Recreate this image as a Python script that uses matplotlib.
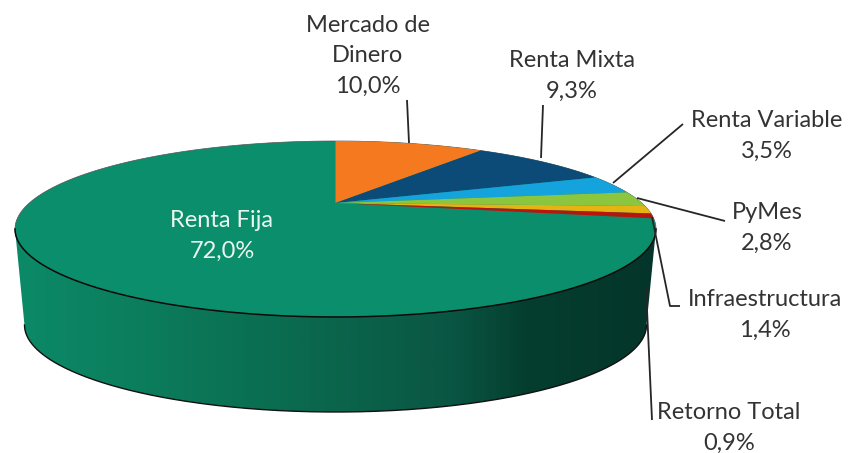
import matplotlib
matplotlib.use('Agg')
import matplotlib.pyplot as plt
import numpy as np
from matplotlib.colors import LinearSegmentedColormap
from matplotlib.patches import Polygon

# data
labels = ['Mercado de\nDinero', 'Renta Mixta', 'Renta Variable', 'PyMes',
          'Infraestructura', 'Retorno Total', 'Renta Fija']
values = [10.0, 9.3, 3.5, 2.8, 1.4, 0.9, 72.0]
percents = ['10,0%', '9,3%', '3,5%', '2,8%', '1,4%', '0,9%', '72,0%']
colors = ['#F4791F', '#0C4A77', '#14A3DC', '#8CC63F', '#E5B413', '#B8150F', '#0B8E6B']

# top ellipse of the pie, in pixels
cx, cy, rx, ry = 335.5, 229, 320.5, 88
apex_y = 203
bot_cx, bot_cy, bot_rx, bot_ry = 335.5, 325, 311, 87


def rim(theta):
    # perspective view of a circle, theta clockwise from the top
    u, v = np.sin(theta), np.cos(theta)
    k = (cy - apex_y) / ry
    d = rx * np.sqrt(1 - k**2)
    w = 1 + k * v
    return cx + d * u / w, cy + (-ry * v - (cy - apex_y)) / w


plt.rcParams['font.family'] = ['Lato', 'DejaVu Sans']
fig = plt.figure(figsize=(8.49, 4.53), dpi=100)
ax = fig.add_axes([0, 0, 1, 1])
ax.axis('off')

# side wall with the dark shading towards the right
t = np.linspace(0, np.pi, 300)
top_x, top_y = cx + rx * np.cos(t), cy + ry * np.sin(t)
bot_x, bot_y = bot_cx + bot_rx * np.cos(t), bot_cy + bot_ry * np.sin(t)
side_pts = np.column_stack([np.r_[top_x, bot_x[::-1]], np.r_[top_y, bot_y[::-1]]])
side = Polygon(side_pts, closed=True, fc='none', ec='none', zorder=2)
ax.add_patch(side)
shade = LinearSegmentedColormap.from_list('shade', [
    (0, '#0B8A68'), (0.2, '#0C7D5C'), (0.5, '#0A654B'), (0.68, '#0A5644'),
    (0.8, '#053E2E'), (1, '#04352A')])
img = ax.imshow(np.linspace(0, 1, 400).reshape(1, -1), cmap=shade, aspect='auto',
                extent=[15, 656, 453, 0], zorder=1)
img.set_clip_path(side)
ax.set_xlim(0, 849)
ax.set_ylim(453, 0)
ax.plot(bot_x, bot_y, color='#111111', lw=1, zorder=2)

# top face
t_all = np.linspace(0, 2 * np.pi, 500)
ax.add_patch(Polygon(np.column_stack([cx + rx * np.cos(t_all), cy + ry * np.sin(t_all)]),
                     closed=True, fc=colors[-1], ec='#555555', lw=0.5, zorder=3))
ax.plot(top_x, top_y, color='#0A0A0A', lw=1.1, zorder=3)
start = 0.0
for val, col in zip(values, colors):
    end = start + val / 100 * 2 * np.pi
    if col != colors[-1]:
        th = np.linspace(start, end, 60)
        xs, ys = rim(th)
        pts = np.column_stack([np.r_[cx, xs], np.r_[apex_y, ys]])
        ax.add_patch(Polygon(pts, closed=True, fc=col, ec='none', zorder=4))
    start = end

# leader lines
line_kw = dict(color='#262626', lw=1.3, zorder=5, solid_capstyle='butt')
ax.plot([409, 407], [143, 100], **line_kw)
ax.plot([541, 543], [158, 105], **line_kw)
ax.plot([613, 683], [183, 124], **line_kw)
ax.plot([637, 725], [198, 221], **line_kw)
ax.plot([652, 670, 680], [217, 306, 306], **line_kw)
ax.plot([646, 652], [287, 420], **line_kw)

# labels
label_x = [368, 572, 767, 767, 765, 729, 222]
label_y = [56, 76, 136, 228, 315, 428, 236]
for name, pct, x, y, col in zip(labels, percents, label_x, label_y,
                                ['#333333'] * 6 + ['#EAF6F0']):
    ax.text(x, y, name + '\n' + pct, ha='center', va='center', fontsize=17,
            color=col, linespacing=1.55, zorder=6)

fig.savefig('out.png', dpi=100)
